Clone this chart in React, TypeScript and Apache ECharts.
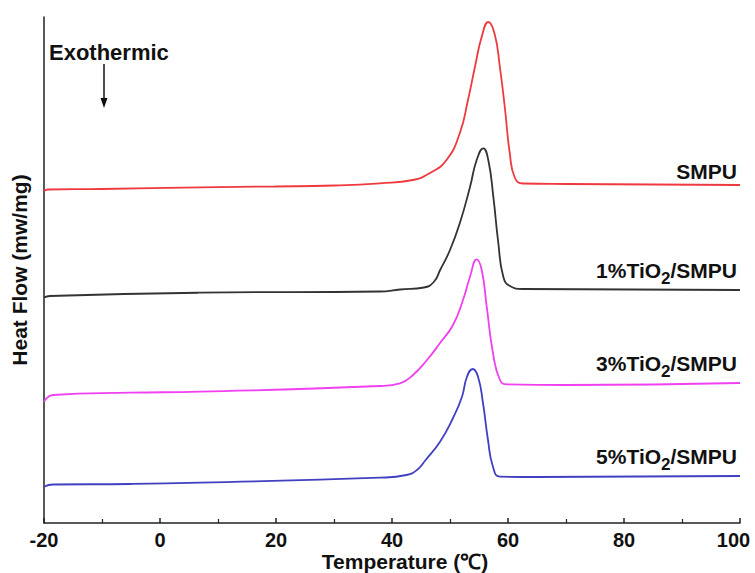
import React, { useEffect, useRef } from "react";
import * as echarts from "echarts";

// Temperature (°C) and heat flow (arbitrary offset units, exothermic up)
const smpu: [number, number][] = [
  [-20, 332], [-19.3, 333.5], [-10, 334], [6.9, 335.7], [19.8, 336.5], [30, 337.5], [37.9, 339.7],
  [43.6, 343], [46.55, 350], [49.4, 363], [51.7, 390], [53.1, 423], [54.3, 456], [55.5, 487],
  [56.6, 501], [57.7, 489], [58.6, 456], [59.5, 413], [60.3, 370], [61.2, 345], [62.6, 339.5],
  [70, 339], [100, 338],
];
const tio2_1: [number, number][] = [
  [-20, 225.5], [-19, 227], [6.9, 230.3], [37.9, 231.5], [41.4, 233.5], [45.5, 235.5], [47.2, 241],
  [48.3, 253], [50.0, 273], [51.7, 300], [53.45, 336], [54.6, 363], [55.74, 374.7], [56.6, 363],
  [57.47, 326.3], [58.33, 280], [59.19, 246.3], [60.34, 237], [62.6, 234], [100, 233],
];
const tio2_3: [number, number][] = [
  [-20, 121.3], [-18.45, 128], [-5.17, 130.3], [6.9, 131.3], [37.9, 137], [41.38, 139.7],
  [43.62, 148], [46.03, 163], [48.28, 180], [50.52, 198], [52.24, 223], [53.45, 246.3],
  [54.6, 263.7], [55.47, 253], [56.33, 216.3], [57.41, 170], [58.62, 143], [59.83, 138.7],
  [70, 138], [100, 140],
];
const tio2_5: [number, number][] = [
  [-20, 36.3], [-18.45, 38.5], [-5.17, 39], [6.9, 40.3], [37.9, 45.3], [42.5, 48], [44.3, 53],
  [45.8, 63], [48.28, 81.3], [50.52, 105], [52.07, 126.3], [52.93, 146.3], [53.91, 154], [54.83, 146.3],
  [55.69, 120], [56.55, 83], [57.41, 56.3], [58.62, 46.3], [65, 46], [100, 47],
];

const seriesNames = ["SMPU", "1%TiO2/SMPU", "3%TiO2/SMPU", "5%TiO2/SMPU"];
const seriesColors = ["#ee3a3f", "#333333", "#f040f0", "#4040c0"];
const xTicks = { min: -20, max: 100, interval: 20 };

const FONT = "'Liberation Sans', Arial, sans-serif";

export default function App() {
  const ref = useRef<HTMLDivElement>(null);
  useEffect(() => {
    if (!ref.current) return;
    const chart = echarts.init(ref.current, undefined, { renderer: "svg" });
    const datasets = [smpu, tio2_1, tio2_3, tio2_5];
    const rich = {
      n: { fontSize: 21, fontWeight: "bold", fontFamily: FONT, fill: "#111", lineHeight: 26 },
      s: {
        fontSize: 17,
        fontWeight: "bold",
        fontFamily: FONT,
        fill: "#111",
        lineHeight: 26,
        padding: [16, 0, 0, 0],
      },
    };
    const labelText = (name: string) =>
      name.includes("TiO2")
        ? "{n|" + name.replace("TiO2", "TiO}{s|2}{n|") + "}"
        : "{n|" + name + "}";
    const labelYs = [171, 270, 363, 456];
    const tickFont = { fontSize: 20, fontWeight: "bold", fontFamily: FONT, color: "#111", lineHeight: 20 };
    chart.setOption({
      animation: false,
      backgroundColor: "#ffffff",
      grid: { left: 44, right: 15, top: 17, bottom: 50, outerBoundsMode: "none", containLabel: false },
      xAxis: {
        type: "value",
        min: xTicks.min,
        max: xTicks.max,
        interval: xTicks.interval,
        name: "Temperature (℃)",
        nameLocation: "middle",
        nameGap: 28,
        nameMoveOverlap: false,
        nameTextStyle: {
          fontSize: 21,
          lineHeight: 21,
          fontWeight: "bold",
          fontFamily: FONT,
          color: "#111",
          padding: [0, 0, 0, 26],
        },
        axisLine: { show: true, onZero: false, lineStyle: { color: "#222", width: 1.5 } },
        axisTick: { show: true, inside: true, length: 5, lineStyle: { color: "#222", width: 1.5 } },
        minorTick: { show: true, splitNumber: 2, length: 4, lineStyle: { color: "#222", width: 1.2 } },
        axisLabel: {
          ...tickFont,
          margin: 7,
          formatter: (v: number) => (v === xTicks.max ? "{r|" + v + "}" : String(v)),
          rich: { r: { ...tickFont, padding: [0, 13, 0, 0] } },
        },
        splitLine: { show: false },
      },
      yAxis: {
        type: "value",
        min: 0,
        max: 506,
        name: "Heat Flow (mw/mg)",
        nameLocation: "middle",
        nameRotate: 90,
        nameGap: 14,
        nameMoveOverlap: false,
        nameTextStyle: { fontSize: 21, fontWeight: "bold", fontFamily: FONT, color: "#111" },
        axisLine: { show: true, onZero: false, lineStyle: { color: "#222", width: 1.5 } },
        axisTick: { show: false },
        axisLabel: { show: false },
        splitLine: { show: false },
      },
      series: datasets.map((d, i) => ({
        name: seriesNames[i],
        type: "line",
        data: d,
        showSymbol: false,
        smooth: 0.5,
        lineStyle: { color: seriesColors[i], width: 1.8 },
        itemStyle: { color: seriesColors[i] },
      })),
      graphic: [
        {
          type: "text",
          left: 49,
          top: 41,
          style: { text: "Exothermic", fontSize: 22, fontWeight: "bold", fontFamily: FONT, fill: "#111" },
        },
        {
          type: "line",
          shape: { x1: 104, y1: 64, x2: 104, y2: 100 },
          style: { stroke: "#111", lineWidth: 1.5 },
        },
        {
          type: "polygon",
          shape: { points: [[100.5, 98], [107.5, 98], [104, 108]] },
          style: { fill: "#111" },
        },
        ...seriesNames.map((name, i) => ({
          type: "text",
          x: 737,
          y: labelYs[i],
          style: {
            text: labelText(name),
            rich,
            fontSize: 21,
            fontWeight: "bold",
            fontFamily: FONT,
            fill: "#111",
            align: "right",
            verticalAlign: "middle",
          },
        })),
      ],
    });
    return () => chart.dispose();
  }, []);
  return (
    <div
      ref={ref}
      style={{ position: "fixed", left: 0, top: 0, width: 755, height: 573, background: "#fff" }}
    />
  );
}
